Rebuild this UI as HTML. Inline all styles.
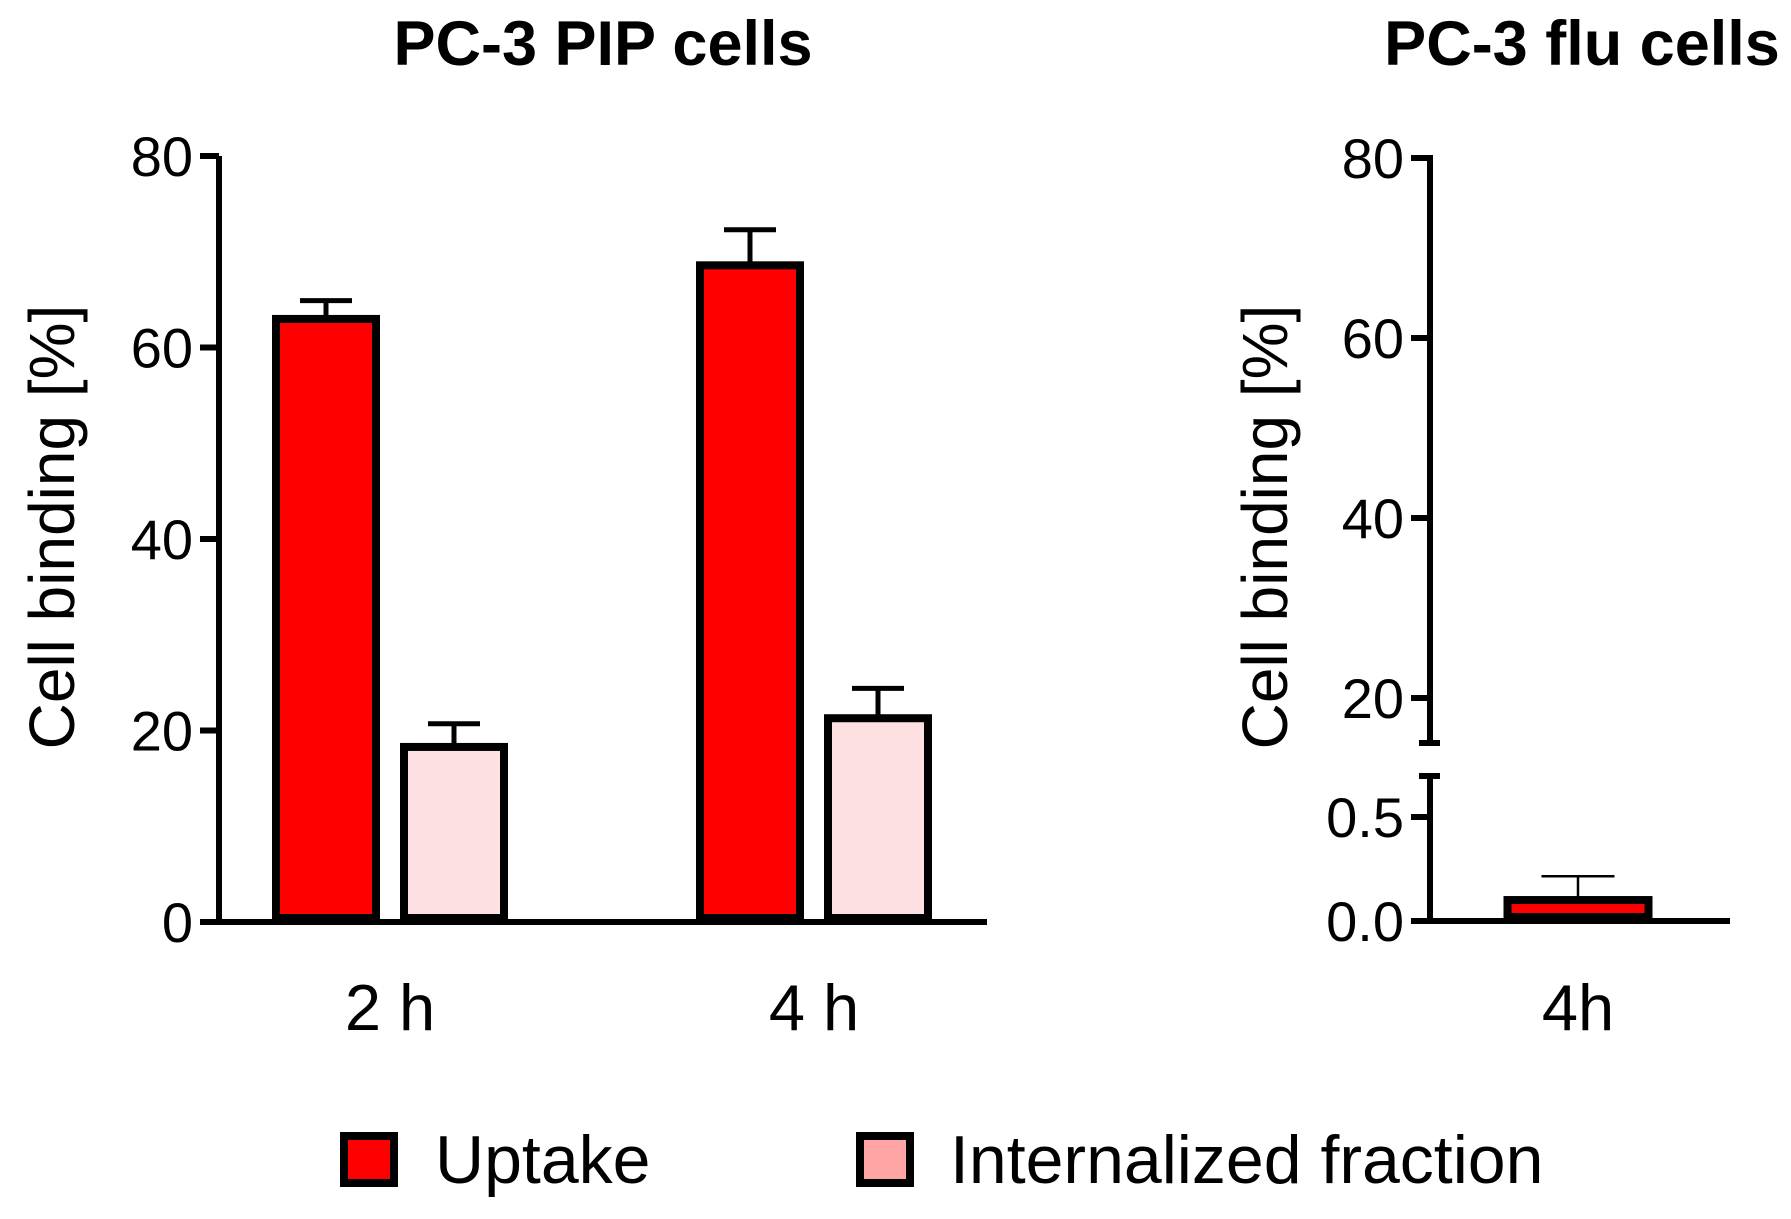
<!DOCTYPE html>
<html><head><meta charset="utf-8">
<style>
html,body{margin:0;padding:0;background:#fff;}
svg{display:block;font-family:"Liberation Sans",Arial,sans-serif;}
</style></head>
<body>
<svg id="chart" width="1791" height="1219" viewBox="0 0 1791 1219" xmlns="http://www.w3.org/2000/svg">
  <text x="603" y="65" font-size="63" font-weight="bold" text-anchor="middle">PC-3 PIP cells</text>
  <text x="1582" y="65" font-size="63" font-weight="bold" text-anchor="middle">PC-3 flu cells</text>
  <text transform="translate(74,527) rotate(-90)" font-size="64" text-anchor="middle">Cell binding [%]</text>
  <text transform="translate(1287,527) rotate(-90)" font-size="64" text-anchor="middle">Cell binding [%]</text>
  <g id="left"></g>
  <g id="right"></g>
  <g>
    <rect x="344" y="1136" width="50" height="47" fill="#ff0000" stroke="#000" stroke-width="8"/>
    <text x="435" y="1183" font-size="68">Uptake</text>
    <rect x="860" y="1136" width="50" height="47" fill="#ffa5a5" stroke="#000" stroke-width="8"/>
    <text x="950" y="1183" font-size="68">Internalized fraction</text>
  </g>
</svg>
<script>
const leftCategories = ["2 h", "4 h"];
const uptakeValues = [63.4, 69.0];
const uptakeErrors = [1.5, 3.3];
const internalizedValues = [18.7, 21.7];
const internalizedErrors = [2.0, 2.7];
const leftTicks = [0, 20, 40, 60, 80];
const rightCategories = ["4h"];
const rightUptakeValues = [0.12];
const rightUptakeErrors = [0.095];
const rightLowerTicks = ["0.0", "0.5"];
const rightUpperTicks = [20, 40, 60, 80];

const NS = "http://www.w3.org/2000/svg";
function mk(parent, tag, attrs) {
  const e = document.createElementNS(NS, tag);
  for (const k in attrs) e.setAttribute(k, attrs[k]);
  parent.appendChild(e);
  return e;
}
// LEFT
const L = document.getElementById('left');
const ly = v => 922 - v * (922 - 156) / 80;
const groupCenter = [390, 814];
const barW = 100;
let el;
el = mk(L, 'line', {x1: 219, y1: 156, x2: 219, y2: 925, stroke: '#000', 'stroke-width': 6});


el = mk(L, 'line', {x1: 200, y1: 922, x2: 987, y2: 922, stroke: '#000', 'stroke-width': 6});


leftTicks.forEach(t => {
  const y = ly(t);
  el = mk(L, 'line', {x1: 200, y1: y, x2: 219, y2: y, stroke: '#000', 'stroke-width': 6});
  
  
  el = mk(L, 'text', {x: 193, y: y + 20, 'font-size': 56, 'text-anchor': 'end'});
  el.textContent = t;
  
  
});
function bar(parent, cx, top, bottom, w, fill, errTop, capW, errW, name) {
  el = mk(parent, 'line', {x1: cx, y1: top, x2: cx, y2: errTop, stroke: '#000', 'stroke-width': errW});
  
  
  el = mk(parent, 'line', {x1: cx - capW / 2, y1: errTop, x2: cx + capW / 2, y2: errTop, stroke: '#000', 'stroke-width': errW});
  
  
  el = mk(parent, 'rect', {x: cx - w / 2, y: top, width: w, height: Math.max(0, bottom - top), fill: fill, stroke: '#000', 'stroke-width': 8});
  
  
}
leftCategories.forEach((c, i) => {
  const gc = groupCenter[i];
  const ux = gc - 64, ix = gc + 64;
  bar(L, ux, ly(uptakeValues[i]) + 4, 918, barW, '#ff0000', ly(uptakeValues[i] + uptakeErrors[i]), 52, 5, 'uptake-bar-' + (i + 1));
  bar(L, ix, ly(internalizedValues[i]) + 4, 918, barW, '#fde0e2', ly(internalizedValues[i] + internalizedErrors[i]), 52, 5, 'internalized-bar-' + (i + 1));
  el = mk(L, 'text', {x: gc, y: 1030, 'font-size': 65, 'text-anchor': 'middle'});
  el.textContent = c;
  
  
});
// RIGHT
const R = document.getElementById('right');
const ryLow = v => 921 - v * (921 - 817) / 0.5;
const ryUp = v => 698 - (v - 20) * (698 - 158) / 60;
el = mk(R, 'line', {x1: 1430, y1: 155, x2: 1430, y2: 743, stroke: '#000', 'stroke-width': 6});


el = mk(R, 'line', {x1: 1419, y1: 743, x2: 1440, y2: 743, stroke: '#000', 'stroke-width': 6});


el = mk(R, 'line', {x1: 1430, y1: 776, x2: 1430, y2: 924, stroke: '#000', 'stroke-width': 6});


el = mk(R, 'line', {x1: 1419, y1: 776, x2: 1440, y2: 776, stroke: '#000', 'stroke-width': 6});


el = mk(R, 'line', {x1: 1412, y1: 921, x2: 1730, y2: 921, stroke: '#000', 'stroke-width': 6});


rightUpperTicks.forEach(t => {
  const y = ryUp(t);
  el = mk(R, 'line', {x1: 1411, y1: y, x2: 1430, y2: y, stroke: '#000', 'stroke-width': 6});
  
  
  el = mk(R, 'text', {x: 1404, y: y + 20, 'font-size': 56, 'text-anchor': 'end'});
  el.textContent = t;
  
  
});
rightLowerTicks.forEach(t => {
  const y = ryLow(parseFloat(t));
  el = mk(R, 'line', {x1: 1411, y1: y, x2: 1430, y2: y, stroke: '#000', 'stroke-width': 6});
  
  
  el = mk(R, 'text', {x: 1404, y: y + 20, 'font-size': 56, 'text-anchor': 'end'});
  el.textContent = t;
  
  
});
rightCategories.forEach((c, i) => {
  const cx = 1578;
  bar(R, cx, ryLow(rightUptakeValues[i]) + 4, 917, 141, '#ff0000', ryLow(rightUptakeValues[i] + rightUptakeErrors[i]), 73, 2.5, 'flu-uptake-bar');
  el = mk(R, 'text', {x: cx, y: 1030, 'font-size': 65, 'text-anchor': 'middle'});
  el.textContent = c;
  
  
});
</script>
</body></html>
